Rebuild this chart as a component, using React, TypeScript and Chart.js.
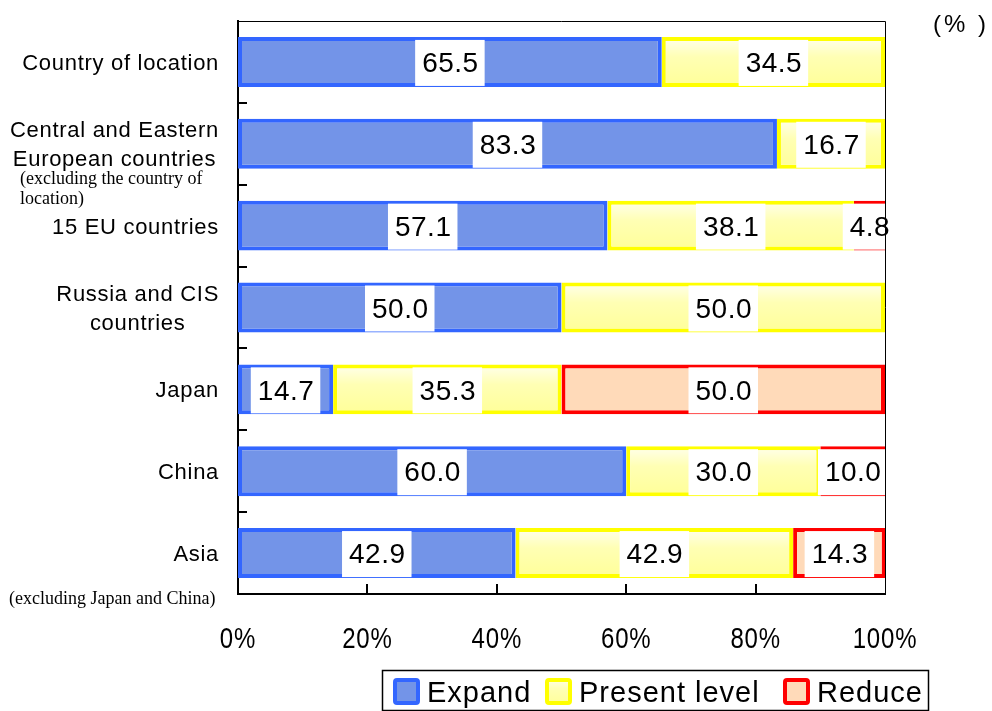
import React, { useEffect, useRef } from 'react';
import { Chart, registerables } from 'chart.js';

Chart.register(...registerables);

// ---- data ----
const categories: string[][] = [
  ['Country of location'],
  ['Central and Eastern', 'European countries'],
  ['15 EU countries'],
  ['Russia and CIS', 'countries'],
  ['Japan'],
  ['China'],
  ['Asia'],
];
const seriesNames = ['Expand', 'Present level', 'Reduce'];
const expandValues: (number | null)[] = [65.5, 83.3, 57.1, 50.0, 14.7, 60.0, 42.9];
const presentValues: (number | null)[] = [34.5, 16.7, 38.1, 50.0, 35.3, 30.0, 42.9];
const reduceValues: (number | null)[] = [null, null, 4.8, null, 50.0, 10.0, 14.3];
const xTickValues = [0, 20, 40, 60, 80, 100];
const xTickLabels = ['0%', '20%', '40%', '60%', '80%', '100%'];
const unitLabel = '(% )';
const noteCentralEastern = ['(excluding the country of', 'location)'];
const noteAsia = ['(excluding Japan and China)'];

// ---- styles ----
const SANS = "'Liberation Sans', Arial, Helvetica, sans-serif";
const SERIF = "'Liberation Serif', 'Times New Roman', serif";

const borderColors = ['#3366FF', '#FFFF00', '#FF0000'];
const fillColors = ['#7394E8', '#FFFFB0', '#FFDAB9'];

function yellowGradient(ctx: CanvasRenderingContext2D, top: number, bottom: number) {
  const g = ctx.createLinearGradient(0, top, 0, bottom);
  g.addColorStop(0, '#FFFFEE');
  g.addColorStop(0.4, '#FFFFB4');
  g.addColorStop(1, '#FFFF98');
  return g;
}

const decorPlugin = {
  id: 'decor',
  afterDatasetsDraw(chart: any) {
    const ctx: CanvasRenderingContext2D = chart.ctx;
    const ca = chart.chartArea;
    ctx.save();
    // data labels
    ctx.font = `28px ${SANS}`;
    (ctx as any).letterSpacing = '0.5px';
    ctx.textAlign = 'center';
    ctx.textBaseline = 'middle';
    chart.data.datasets.forEach((ds: any, di: number) => {
      const meta = chart.getDatasetMeta(di);
      meta.data.forEach((el: any, i: number) => {
        const v = ds.data[i];
        if (v == null) return;
        const { x, base, y } = el.getProps(['x', 'base', 'y'], true);
        const cx = (x + base) / 2;
        const txt = Number(v).toFixed(1);
        const w = ctx.measureText(txt).width + 13;
        const left = cx - w / 2;
        const right = Math.min(cx + w / 2, ca.right + 1);
        ctx.fillStyle = '#FFFFFF';
        ctx.fillRect(left, y - 22, right - left, 46);
        ctx.fillStyle = '#000000';
        ctx.fillText(txt, cx + 0.5, y + 2.5);
      });
    });
    ctx.restore();
  },
  afterDraw(chart: any) {
    const ctx: CanvasRenderingContext2D = chart.ctx;
    const ca = chart.chartArea;
    const ys = chart.scales.y;
    const xs = chart.scales.x;
    ctx.save();
    // top and right frame lines
    ctx.strokeStyle = '#000';
    ctx.lineWidth = 1;
    ctx.beginPath();
    ctx.moveTo(ca.left, ca.top + 0.5);
    ctx.lineTo(ca.right + 0.5, ca.top + 0.5);
    ctx.lineTo(ca.right + 0.5, ca.bottom);
    ctx.stroke();

    // y tick marks between categories (pointing inward)
    ctx.lineWidth = 2;
    for (let i = 0; i < categories.length - 1; i++) {
      const yy = Math.round((ys.getPixelForValue(i) + ys.getPixelForValue(i + 1)) / 2);
      ctx.beginPath();
      ctx.moveTo(ca.left, yy);
      ctx.lineTo(ca.left + 9, yy);
      ctx.stroke();
    }
    // x tick marks (pointing inward)
    xTickValues.forEach((v) => {
      if (v === xTickValues[0] || v === xTickValues[xTickValues.length - 1]) return;
      const xx = Math.round(xs.getPixelForValue(v));
      ctx.beginPath();
      ctx.moveTo(xx, ca.bottom);
      ctx.lineTo(xx, ca.bottom - 10);
      ctx.stroke();
    });

    // x tick labels (condensed look)
    ctx.fillStyle = '#000';
    ctx.font = `30px ${SANS}`;
    (ctx as any).letterSpacing = '1px';
    ctx.textAlign = 'center';
    ctx.textBaseline = 'alphabetic';
    xTickValues.forEach((v, k) => {
      const xx = xs.getPixelForValue(v);
      ctx.save();
      ctx.translate(xx, 648);
      ctx.scale(0.8, 1);
      ctx.fillText(xTickLabels[k], 0, 0);
      ctx.restore();
    });

    // category labels: block right-aligned, lines centered
    ctx.font = `22px ${SANS}`;
    (ctx as any).letterSpacing = '0.7px';
    ctx.textBaseline = 'middle';
    ctx.textAlign = 'center';
    const lineH = 29;
    categories.forEach((lines, i) => {
      const cy = ys.getPixelForValue(i) + 2;
      const widths = lines.map((l) => ctx.measureText(l).width);
      const maxW = Math.max(...widths);
      const bx = 219 - maxW / 2;
      lines.forEach((l, j) => {
        ctx.fillText(l, bx, cy + (j - (lines.length - 1) / 2) * lineH);
      });
    });

    // serif notes
    ctx.font = `18px ${SERIF}`;
    (ctx as any).letterSpacing = '0px';
    ctx.textAlign = 'left';
    ctx.textBaseline = 'alphabetic';
    const cy1 = ys.getPixelForValue(1);
    noteCentralEastern.forEach((l, j) => ctx.fillText(l, 20, cy1 + 40 + j * 20));
    const cy6 = ys.getPixelForValue(6);
    noteAsia.forEach((l, j) => ctx.fillText(l, 9, cy6 + 51 + j * 20));

    // unit label
    ctx.font = `24px ${SANS}`;
    (ctx as any).letterSpacing = '3px';
    ctx.fillText(unitLabel, 933, 32);

    // legend
    (ctx as any).letterSpacing = '1px';
    ctx.lineWidth = 1.5;
    ctx.strokeStyle = '#000';
    ctx.strokeRect(382.5, 670.5, 546, 40);
    const sqX = [393, 545, 783];
    ctx.font = `29px ${SANS}`;
    seriesNames.forEach((name, k) => {
      const sx = sqX[k];
      const sy = 678;
      ctx.fillStyle = k === 1 ? yellowGradient(ctx, sy, sy + 27) : fillColors[k];
      ctx.fillRect(sx + 2, sy + 2, 23, 23);
      ctx.strokeStyle = borderColors[k];
      ctx.lineWidth = 4;
      ctx.beginPath();
      (ctx as any).roundRect(sx + 2, sy + 2, 23, 23, 2);
      ctx.stroke();
      ctx.fillStyle = '#000';
      ctx.fillText(name, sx + 34, 702);
    });
    ctx.restore();
  },
};

export default function App() {
  const ref = useRef<HTMLCanvasElement | null>(null);
  useEffect(() => {
    const canvas = ref.current;
    if (!canvas) return;
    const mk = (k: number, data: (number | null)[]) => ({
      label: seriesNames[k],
      data,
      backgroundColor:
        k === 1
          ? (c: any) => {
              const ch = c.chart;
              const ys = ch.scales && ch.scales.y;
              if (!ys || c.type !== 'data' || !ch.chartArea) return fillColors[1];
              const cy = ys.getPixelForValue(c.dataIndex);
              return yellowGradient(ch.ctx, cy - 25, cy + 25);
            }
          : fillColors[k],
      borderColor: borderColors[k],
      borderWidth: 4,
      borderSkipped: false,
      barPercentage: 0.61,
      categoryPercentage: 1,
    });
    const chart = new Chart(canvas, {
      type: 'bar',
      data: {
        labels: categories.map((l) => l.join(' ')),
        datasets: [mk(0, expandValues), mk(1, presentValues), mk(2, reduceValues)] as any,
      },
      options: {
        indexAxis: 'y',
        animation: false,
        responsive: false,
        devicePixelRatio: 1,
        layout: { padding: { left: 0, right: 107, top: 21, bottom: 0 } },
        plugins: { legend: { display: false }, tooltip: { enabled: false } },
        scales: {
          x: {
            stacked: true,
            min: 0,
            max: 100,
            afterFit: (s: any) => {
              s.height = 117;
            },
            afterBuildTicks: (s: any) => {
              s.ticks = xTickValues.map((v) => ({ value: v }));
            },
            ticks: { display: false },
            grid: { display: false },
            border: { display: true, color: '#000', width: 2 },
          },
          y: {
            stacked: true,
            afterFit: (s: any) => {
              s.width = 238;
            },
            ticks: { display: false },
            grid: { display: false },
            border: { display: true, color: '#000', width: 2 },
          },
        },
      } as any,
      plugins: [decorPlugin],
    });
    return () => chart.destroy();
  }, []);
  return (
    <div style={{ position: 'fixed', left: 0, top: 0, width: 992, height: 711, background: '#fff' }}>
      <canvas ref={ref} width={992} height={711} style={{ display: 'block', width: 992, height: 711 }} />
    </div>
  );
}
